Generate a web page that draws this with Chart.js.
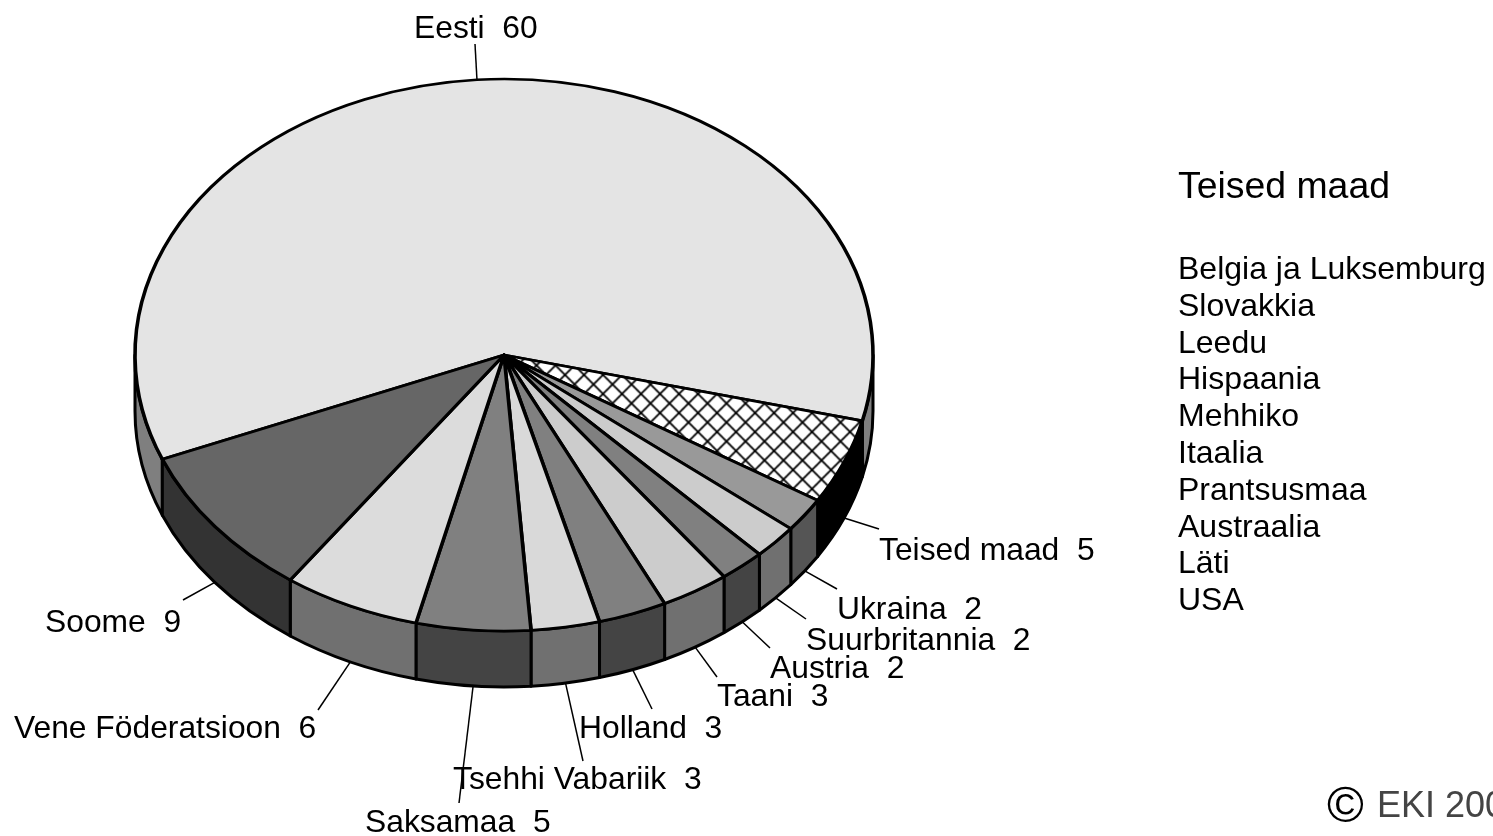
<!DOCTYPE html>
<html>
<head>
<meta charset="utf-8">
<title>Eesti</title>
<script src="https://cdn.jsdelivr.net/npm/chart.js@4"></script>
<style>
    html, body { margin: 0; padding: 0; background: #fff; overflow: hidden; }
    body { width: 1493px; height: 836px; position: relative; font-family: "Liberation Sans", Arial, sans-serif; color: #000; }
    #chart1 { position: absolute; left: 0; top: 0; }
    .note { position: absolute; white-space: pre; }
    #otherTitle { left: 1178px; top: 164px; font-size: 37.4px; }
    #otherList { left: 1178px; top: 250px; font-size: 32px; line-height: 36.8px; }
    #mark { left: 1327px; top: 776px; font-size: 50px; }
    #eki { left: 1377px; top: 784px; font-size: 36px; color: #444; }
</style>
</head>
<body>
<canvas id="chart1" width="1493" height="836"></canvas>
<div class="note" id="otherTitle"></div>
<div class="note" id="otherList"></div>
<div class="note" id="mark">©</div>
<div class="note" id="eki">EKI 200</div>

<script>
var categories = ["Eesti", "Teised maad", "Ukraina", "Suurbritannia", "Austria", "Taani", "Holland", "Tsehhi Vabariik", "Saksamaa", "Vene Föderatsioon", "Soome"];
var shares = [60, 5, 2, 2, 2, 3, 3, 3, 5, 6, 9];
var otherCountries = ["Belgia ja Luksemburg", "Slovakkia", "Leedu", "Hispaania", "Mehhiko", "Itaalia", "Prantsusmaa", "Austraalia", "Läti", "USA"];

var topColors = ["#e4e4e4", "hatch", "#999999", "#cccccc", "#808080", "#cccccc", "#808080", "#d9d9d9", "#808080", "#dcdcdc", "#666666"];
var wallColors = ["#7f7f7f", "#000000", "#555555", "#707070", "#444444", "#707070", "#444444", "#707070", "#444444", "#707070", "#333333"];

// where each label starts (left, baseline) and where its leader line stops
var labelSpots = [[414, 38], [879, 560], [837, 619], [806, 650], [770, 678], [717, 706], [579, 738], [453, 789], [365, 832], [14, 738], [45, 632]];
var leaderEnds = [[475, 44], [879, 529], [837, 589], [806, 619], [770, 648], [717, 677], [652, 709], [583, 761], [459, 803], [318, 710], [183, 600]];

var pieX = 504;
var pieY = 355;
var pieRadius = 369;
var squash = 276 / 369;
var depth = 56;

document.getElementById("otherTitle").textContent = "Teised maad";
document.getElementById("otherList").textContent = otherCountries.join("\n");

function hatchPattern() {
    var tile = document.createElement("canvas");
    tile.width = 19;
    tile.height = 19;
    var c = tile.getContext("2d");
    c.fillStyle = "#fff";
    c.fillRect(0, 0, 19, 19);
    c.strokeStyle = "#000";
    c.lineWidth = 1.8;
    c.beginPath();
    c.moveTo(-2, -2); c.lineTo(21, 21);
    c.moveTo(21, -2); c.lineTo(-2, 21);
    c.stroke();
    var pattern = c.createPattern(tile, "repeat");
    pattern.setTransform(new DOMMatrix().scale(1, 1 / squash));
    return pattern;
}

// side of the pie, only the part facing the viewer
var wallPlugin = {
    id: "wall",
    beforeDatasetsDraw: function (chart) {
        var ctx = chart.ctx;
        var arcs = chart.getDatasetMeta(0).data;
        var full = Math.PI * 2;
        ctx.save();
        ctx.lineWidth = 3;
        ctx.lineJoin = "round";
        ctx.strokeStyle = "#000";
        arcs.forEach(function (arc, i) {
            // the arc may wrap past 0, so look at it in two turns
            [0, full].forEach(function (turn) {
                var a0 = Math.max(arc.startAngle - turn, 0);
                var a1 = Math.min(arc.endAngle - turn, Math.PI);
                if (a1 <= a0) return;
                ctx.beginPath();
                ctx.ellipse(pieX, pieY, pieRadius, pieRadius * squash, 0, a0, a1);
                ctx.ellipse(pieX, pieY + depth, pieRadius, pieRadius * squash, 0, a1, a0, true);
                ctx.closePath();
                ctx.fillStyle = wallColors[i];
                ctx.fill();
                ctx.stroke();
            });
        });
        ctx.restore();
    },
    beforeDatasetDraw: function (chart, args) {
        var ctx = chart.ctx;
        var first = args.meta.data[0];
        ctx.save();
        ctx.translate(pieX, pieY);
        ctx.scale(pieRadius / first.outerRadius, squash);
        ctx.translate(-first.x, -first.y);
        args.meta.controller.draw();
        ctx.restore();
        return false;
    },
    afterDatasetsDraw: function (chart) {
        var ctx = chart.ctx;
        var arcs = chart.getDatasetMeta(0).data;
        ctx.save();
        ctx.strokeStyle = "#000";
        ctx.lineWidth = 1.5;
        ctx.fillStyle = "#000";
        ctx.font = '31.8px "Liberation Sans", Arial, sans-serif';
        ctx.textBaseline = "alphabetic";
        arcs.forEach(function (arc, i) {
            var mid = (arc.startAngle + arc.endAngle) / 2;
            var x = pieX + pieRadius * Math.cos(mid);
            var y = pieY + pieRadius * squash * Math.sin(mid);
            if (Math.sin(mid) > 0) y += depth;
            ctx.beginPath();
            ctx.moveTo(x, y);
            ctx.lineTo(leaderEnds[i][0], leaderEnds[i][1]);
            ctx.stroke();
            ctx.fillText(categories[i] + "  " + shares[i], labelSpots[i][0], labelSpots[i][1]);
        });
        ctx.restore();
    }
};

var canvas = document.getElementById("chart1").getContext("2d");

new Chart(canvas, {
    type: "pie",
    data: {
        labels: categories,
        datasets: [{
            data: shares,
            backgroundColor: topColors.map(function (c) { return c === "hatch" ? hatchPattern() : c; }),
            borderColor: "#000",
            borderWidth: 3.6,
            borderJoinStyle: "round"
        }]
    },
    options: {
        responsive: false,
        animation: false,
        events: [],
        rotation: 247.8,
        radius: pieRadius,
        layout: { padding: 0 },
        plugins: {
            legend: { display: false },
            tooltip: { enabled: false }
        }
    },
    plugins: [wallPlugin]
});
</script>
</body>
</html>
